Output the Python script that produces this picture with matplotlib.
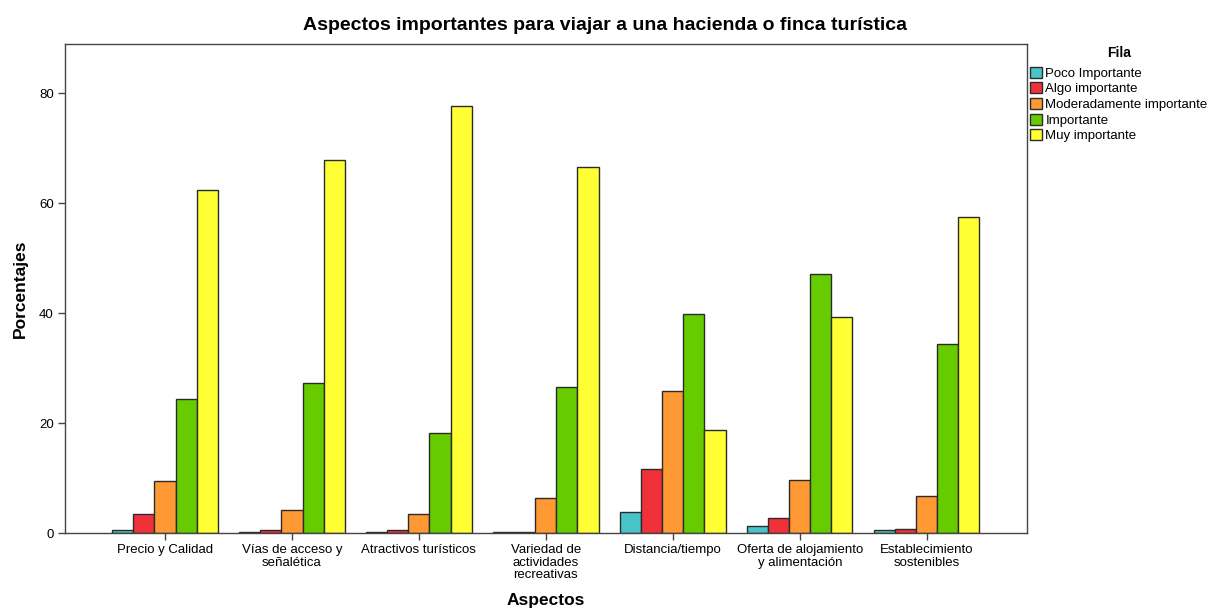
"""grouped bar chart: aspectos importantes para viajar a una hacienda o finca turistica.

values read off the reference picture (percent per aspect and importance level).
"""
import numpy as np
import matplotlib
matplotlib.use("Agg")
import matplotlib.pyplot as plt
from matplotlib.patches import Patch

plt.rcParams["font.family"] = ["Liberation Sans", "DejaVu Sans"]

# data
ASPECTOS = [
    "Precio y Calidad",
    "Vías de acceso y\nseñalética",
    "Atractivos turísticos",
    "Variedad de\nactividades\nrecreativas",
    "Distancia/tiempo",
    "Oferta de alojamiento\ny alimentación",
    "Establecimiento\nsostenibles",
]
NIVELES = [
    "Poco Importante",
    "Algo importante",
    "Moderadamente importante",
    "Importante",
    "Muy importante",
]
poco_importante = [0.6, 0.1, 0.1, 0.1, 3.9, 1.3, 0.5]
algo_importante = [3.4, 0.5, 0.5, 0.2, 11.7, 2.7, 0.7]
moderadamente_importante = [9.4, 4.2, 3.5, 6.3, 25.8, 9.6, 6.7]
importante = [24.3, 27.3, 18.2, 26.5, 39.9, 47.1, 34.4]
muy_importante = [62.4, 67.9, 77.7, 66.6, 18.7, 39.3, 57.5]

SERIES = [poco_importante, algo_importante, moderadamente_importante,
          importante, muy_importante]
COLORS = ["#48C3C8", "#F0313A", "#FF9933", "#66CC00", "#FFFF33"]
EDGE = "#2b2b2b"

W, H = 1210, 608
fig = plt.figure(figsize=(W / 100, H / 100), dpi=100)
ax = fig.add_axes([65 / W, 1 - 533 / H, (1027 - 65) / W, (533 - 44) / H])

x = np.arange(len(ASPECTOS))
bw = 0.166
for i, (vals, col) in enumerate(zip(SERIES, COLORS)):
    off = (i - 2) * bw
    ax.bar(x + off, vals, width=bw, color=col, edgecolor=EDGE,
           linewidth=1.0, zorder=2)

ax.set_xlim(-0.788, 6.79)
ax.set_ylim(0, 89)
ax.set_yticks([0, 20, 40, 60, 80])
ax.set_xticks(x)
ax.set_xticklabels(ASPECTOS, fontsize=9.5, linespacing=1.05)
ax.tick_params(axis="both", direction="out", length=5, width=1,
               color="#444444", labelsize=9.5, pad=3)
for sp in ax.spines.values():
    sp.set_color("#444444")
    sp.set_linewidth(1.0)

ax.set_xlabel("Aspectos", fontsize=12.5, fontweight="bold", va="center")
ax.xaxis.set_label_coords(0.5, (533 - 600) / (533 - 44))
ax.set_ylabel("Porcentajes", fontsize=12.5, fontweight="bold", va="center")
ax.yaxis.set_label_coords((20 - 65) / (1027 - 65), 0.5)

fig.text(0.5, 1 - 25 / H, "Aspectos importantes para viajar a una hacienda o finca turística",
         ha="center", va="center", fontsize=14, fontweight="bold")

handles = [Patch(facecolor=c, edgecolor=EDGE, linewidth=1.0, label=lab)
           for c, lab in zip(COLORS, NIVELES)]
fig.legend(handles=handles, loc="upper left",
           bbox_to_anchor=(1027 / W, 1 - 43 / H),
           frameon=False, fontsize=9.5, title="Fila",
           title_fontproperties={"weight": "bold", "size": 10},
           handlelength=0.9, handleheight=0.9, handletextpad=0.3,
           labelspacing=0.2, borderaxespad=0.0, borderpad=0.2)
leg = fig.legends[0]
leg._legend_box.sep = 5

fig.savefig("out.png", dpi=100)
